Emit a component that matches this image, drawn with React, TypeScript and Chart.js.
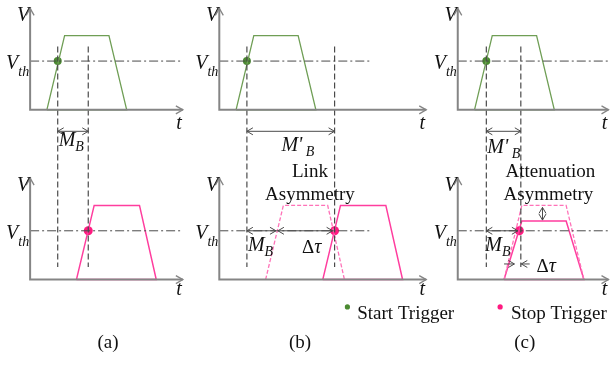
import React, { useEffect, useRef } from "react";
import { Chart, registerables } from "chart.js";
Chart.register(...registerables);

// ---------- data (schematic time / voltage units) ----------
const START_PULSE_T = [17, 35, 80, 98];          // start pulse corners (panels a, b, c)
const FULL_V = [0, 76, 76, 0];                   // full amplitude pulse
const ATT_V = [0, 60, 60, 0];                    // attenuated pulse
const STOP_PULSE_A_T = [47, 65, 111, 128];       // (a) stop pulse
const STOP_PULSE_B_REF_T = [47, 65, 110, 127];   // (b) expected (dashed)
const STOP_PULSE_B_T = [105, 123, 169, 186];     // (b) delayed by link asymmetry
const STOP_PULSE_C_T = [47, 65, 110, 128];       // (c) dashed and attenuated
const V_TH = 50;
const START_TRIGGER_T = [28, 28, 29];
const STOP_TRIGGER_T = [59, 117, 62.5];
const MARKER_T = [
  [28, 59],
  [28, 117],
  [29, 64],
];
const PANEL_LABELS = ["(a)", "(b)", "(c)"];
const LEGEND_LABELS = ["Start Trigger", "Stop Trigger"];

// ---------- layout ----------
const W = 614;
const H = 366;
const PANEL_X0 = [26, 218, 460];
const AXIS_END = [181, 428, 613];
const VTH_END = [180, 372, 614];
const BASE = [108, 282];
const AXIS_TOP = [4, 178];
const MARK_TOP = 43;
const MARK_BOT = 269;

const GREEN = "#6f9e55";
const GREEN_DOT = "#4b8a31";
const PINK = "#ff3d9e";
const PINK_DASH = "#ff72b8";
const PINK_DOT = "#ff1a80";
const AXIS = "#858585";
const DARK = "#4a4a4a";
const FONT = '"Liberation Serif","Times New Roman",serif';

const pt = (panel: number, row: number, t: number, v: number) => ({
  x: PANEL_X0[panel] + t,
  y: BASE[row] - v,
});

function pulse(panel: number, row: number, ts: number[], vs: number[], closed: boolean) {
  const d = ts.map((t, i) => pt(panel, row, t, vs[i]));
  if (closed) d.push(pt(panel, row, ts[0], vs[0]));
  return d;
}

type Seg = { t: string; italic?: boolean; size?: number; dy?: number };

function drawRich(ctx: CanvasRenderingContext2D, segs: Seg[], x: number, y: number, align: "left" | "center" | "right") {
  const fonts = segs.map((s) => `${s.italic ? "italic " : ""}${s.size ?? 19}px ${FONT}`);
  let w = 0;
  segs.forEach((s, i) => {
    ctx.font = fonts[i];
    w += ctx.measureText(s.t).width;
  });
  let cx = align === "left" ? x : align === "center" ? x - w / 2 : x - w;
  segs.forEach((s, i) => {
    ctx.font = fonts[i];
    ctx.fillText(s.t, cx, y + (s.dy ?? 0));
    cx += ctx.measureText(s.t).width;
  });
}

function head(ctx: CanvasRenderingContext2D, x: number, y: number, dx: number, dy: number, len = 6, hw = 3.5) {
  const l = Math.hypot(dx, dy);
  const ux = dx / l, uy = dy / l;
  const px = -uy, py = ux;
  ctx.beginPath();
  ctx.moveTo(x - ux * len + px * hw, y - uy * len + py * hw);
  ctx.lineTo(x, y);
  ctx.lineTo(x - ux * len - px * hw, y - uy * len - py * hw);
  ctx.stroke();
}

function arrow(ctx: CanvasRenderingContext2D, x1: number, y1: number, x2: number, y2: number, both: boolean) {
  ctx.beginPath();
  ctx.moveTo(x1, y1);
  ctx.lineTo(x2, y2);
  ctx.stroke();
  head(ctx, x2, y2, x2 - x1, y2 - y1);
  if (both) head(ctx, x1, y1, x1 - x2, y1 - y2);
}

const overlay = {
  id: "overlay",
  afterDatasetsDraw(chart: any) {
    const ctx: CanvasRenderingContext2D = chart.ctx;
    const xs = chart.scales.x, ys = chart.scales.y;
    const X = (v: number) => xs.getPixelForValue(v);
    const Y = (v: number) => ys.getPixelForValue(v);
    ctx.save();
    ctx.setLineDash([]);
    // axis arrowheads
    ctx.strokeStyle = AXIS;
    ctx.lineWidth = 1.3;
    for (let p = 0; p < 3; p++) {
      for (let r = 0; r < 2; r++) {
        head(ctx, X(PANEL_X0[p]), Y(AXIS_TOP[r]), 0, -1, 7, 4);
        head(ctx, X(AXIS_END[p]), Y(BASE[r]), 1, 0, 7, 4);
      }
    }
    // measurement arrows
    ctx.strokeStyle = DARK;
    ctx.lineWidth = 1;
    const ay = 130;
    for (let p = 0; p < 3; p++) {
      arrow(ctx, X(PANEL_X0[p] + MARKER_T[p][0]), Y(ay), X(PANEL_X0[p] + MARKER_T[p][1]), Y(ay), true);
    }
    const thB = BASE[1] - V_TH;
    // (b) bottom
    arrow(ctx, X(PANEL_X0[1] + START_TRIGGER_T[1]), Y(thB), X(PANEL_X0[1] + 57.5), Y(thB), true);
    arrow(ctx, X(PANEL_X0[1] + 59.5), Y(thB), X(PANEL_X0[1] + STOP_TRIGGER_T[1] - 2), Y(thB), true);
    // (c) bottom
    arrow(ctx, X(PANEL_X0[2] + START_TRIGGER_T[2]), Y(thB), X(PANEL_X0[2] + STOP_TRIGGER_T[2] - 1.5), Y(thB), true);
    arrow(ctx, X(PANEL_X0[2] + 47), Y(266), X(PANEL_X0[2] + 57.5), Y(266), false);
    arrow(ctx, X(PANEL_X0[2] + 73), Y(266), X(PANEL_X0[2] + 64.5), Y(266), false);
    arrow(ctx, X(546), Y(BASE[1] - FULL_V[1] + 2), X(546), Y(BASE[1] - ATT_V[1] - 1), true);

    // text
    ctx.fillStyle = "#111";
    ctx.textBaseline = "alphabetic";
    for (let p = 0; p < 3; p++) {
      for (let r = 0; r < 2; r++) {
        const ax = X(PANEL_X0[p] - 1);
        drawRich(ctx, [{ t: "V", italic: true, size: 20 }], ax, Y(AXIS_TOP[r] + 13), "right");
        drawRich(
          ctx,
          [
            { t: "V", italic: true, size: 20 },
            { t: "th", italic: true, size: 14, dy: 7 },
          ],
          ax,
          Y(BASE[r] - V_TH + 8),
          "right"
        );
        drawRich(ctx, [{ t: "t", italic: true, size: 20 }], X(AXIS_END[p] - 4), Y(BASE[r] + (r === 0 ? 20 : 16)), "center");
      }
    }
    // top labels
    drawRich(ctx, [{ t: "M", italic: true, size: 20 }, { t: "B", italic: true, size: 14, dy: 5 }], X(55), Y(145), "left");
    drawRich(ctx, [{ t: "M'", italic: true, size: 20 }, { t: " B", italic: true, size: 14, dy: 5 }], X(281), Y(150), "left");
    drawRich(ctx, [{ t: "M'", italic: true, size: 20 }, { t: " B", italic: true, size: 14, dy: 5 }], X(490), Y(152), "left");
    drawRich(ctx, [{ t: "Link", size: 19 }], X(310), Y(177), "center");
    drawRich(ctx, [{ t: "Asymmetry", size: 19 }], X(310), Y(200), "center");
    drawRich(ctx, [{ t: "Attenuation", size: 19 }], X(554), Y(177), "center");
    drawRich(ctx, [{ t: "Asymmetry", size: 19 }], X(552), Y(200), "center");
    // bottom labels
    drawRich(ctx, [{ t: "M", italic: true, size: 20 }, { t: "B", italic: true, size: 14, dy: 5 }], X(247), Y(253), "left");
    drawRich(ctx, [{ t: "Δ", size: 19 }, { t: "τ", italic: true, size: 20 }], X(302), Y(255), "left");
    drawRich(ctx, [{ t: "M", italic: true, size: 20 }, { t: "B", italic: true, size: 14, dy: 5 }], X(488), Y(253), "left");
    drawRich(ctx, [{ t: "Δ", size: 19 }, { t: "τ", italic: true, size: 20 }], X(540), Y(274), "left");
    // legend
    ctx.fillStyle = GREEN_DOT;
    ctx.beginPath();
    ctx.arc(X(348), Y(310), 2.6, 0, Math.PI * 2);
    ctx.fill();
    ctx.fillStyle = PINK_DOT;
    ctx.beginPath();
    ctx.arc(X(503), Y(310), 2.6, 0, Math.PI * 2);
    ctx.fill();
    ctx.fillStyle = "#111";
    drawRich(ctx, [{ t: LEGEND_LABELS[0], size: 19 }], X(358), Y(322), "left");
    drawRich(ctx, [{ t: LEGEND_LABELS[1], size: 19 }], X(514), Y(322), "left");
    const lx = [105, 300, 528];
    PANEL_LABELS.forEach((l, i) => drawRich(ctx, [{ t: l, size: 19 }], X(lx[i]), Y(352), "center"));
    ctx.restore();
  },
};

function buildDatasets() {
  const ds: any[] = [];
  const line = (data: any[], color: string, width: number, dash: number[] = []) =>
    ds.push({
      data,
      showLine: true,
      borderColor: color,
      borderWidth: width,
      borderDash: dash,
      pointRadius: 0,
      fill: false,
      tension: 0,
    });
  // axes
  for (let p = 0; p < 3; p++) {
    for (let r = 0; r < 2; r++) {
      line(
        [
          { x: PANEL_X0[p], y: AXIS_TOP[r] },
          { x: PANEL_X0[p], y: BASE[r] },
          { x: AXIS_END[p], y: BASE[r] },
        ],
        AXIS,
        2
      );
      // threshold
      line(
        [
          { x: PANEL_X0[p], y: BASE[r] - V_TH },
          { x: VTH_END[p], y: BASE[r] - V_TH },
        ],
        DARK,
        1,
        [9, 3, 2, 3]
      );
    }
    // vertical markers
    MARKER_T[p].forEach((t) =>
      line(
        [
          { x: PANEL_X0[p] + t, y: MARK_TOP },
          { x: PANEL_X0[p] + t, y: MARK_BOT },
        ],
        DARK,
        1.2,
        [6, 3]
      )
    );
    // start pulses
    line(pulse(p, 0, START_PULSE_T, FULL_V, true), GREEN, 1.3);
  }
  line(pulse(0, 1, STOP_PULSE_A_T, FULL_V, true), PINK, 1.5);
  line(pulse(1, 1, STOP_PULSE_B_REF_T, FULL_V, false), PINK_DASH, 1.3, [4, 2]);
  line(pulse(1, 1, STOP_PULSE_B_T, FULL_V, true), PINK, 1.5);
  line(pulse(2, 1, STOP_PULSE_C_T, FULL_V, false), PINK_DASH, 1.3, [4, 2]);
  line(pulse(2, 1, STOP_PULSE_C_T, ATT_V, true), PINK, 1.5);
  // trigger points
  ds.push({
    data: START_TRIGGER_T.map((t, p) => pt(p, 0, t, V_TH)),
    pointRadius: 4,
    pointBackgroundColor: GREEN_DOT,
    pointBorderWidth: 0,
    showLine: false,
  });
  ds.push({
    data: STOP_TRIGGER_T.map((t, p) => pt(p, 1, t, V_TH)),
    pointRadius: 4.5,
    pointBackgroundColor: PINK_DOT,
    pointBorderWidth: 0,
    showLine: false,
  });
  return ds;
}

export default function App() {
  const ref = useRef<HTMLCanvasElement | null>(null);
  useEffect(() => {
    if (!ref.current) return;
    const chart = new Chart(ref.current, {
      type: "scatter",
      data: { datasets: buildDatasets() },
      options: {
        animation: false,
        responsive: false,
        layout: { padding: 0 },
        plugins: { legend: { display: false }, tooltip: { enabled: false } },
        scales: {
          x: { type: "linear", min: 0, max: W, display: false },
          y: { type: "linear", min: 0, max: H, reverse: true, display: false },
        },
      },
      plugins: [overlay],
    } as any);
    return () => chart.destroy();
  }, []);
  return (
    <div style={{ position: "fixed", left: 0, top: 0, width: W, height: H, background: "#fff" }}>
      <canvas ref={ref} width={W} height={H} style={{ width: W, height: H }} />
    </div>
  );
}
